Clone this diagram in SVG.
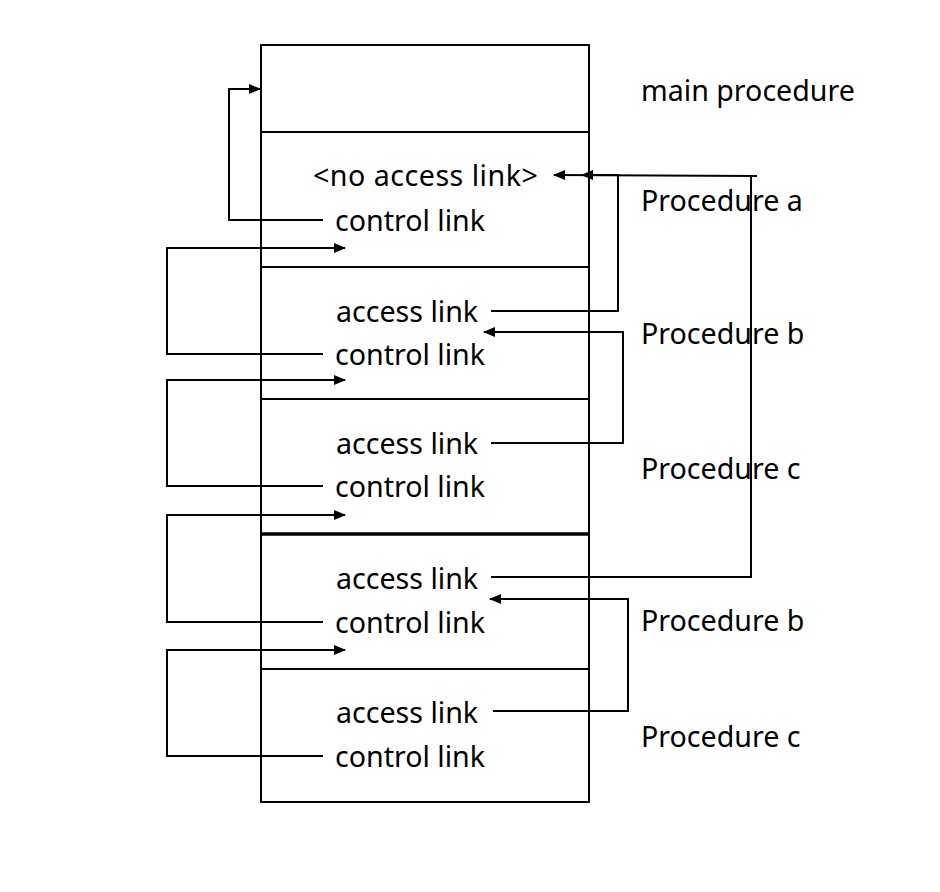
<svg xmlns="http://www.w3.org/2000/svg" width="940" height="892" viewBox="0 0 940 892">
<style>
.t{font-family:"Noto Sans","Liberation Sans",sans-serif;font-size:28.6px;fill:#000}
.ln{fill:none;stroke:#000;stroke-width:2}
.c{fill:none;stroke:#000;stroke-width:2}
</style>
<defs>
<marker id="ah" markerWidth="12" markerHeight="10" refX="11" refY="5" orient="auto" markerUnits="userSpaceOnUse">
<path d="M0,0 L12,5 L0,10 Z" fill="#000"/>
</marker>
</defs>
<rect width="940" height="892" fill="#fff"/>
<g id="stack">
<rect x="261" y="45" width="328" height="757" class="ln"/>
<line x1="261" y1="132" x2="589" y2="132" class="ln"/>
<line x1="261" y1="267" x2="589" y2="267" class="ln"/>
<line x1="261" y1="399" x2="589" y2="399" class="ln"/>
<line x1="261" y1="534" x2="589" y2="534" stroke="#000" stroke-width="3.5"/>
<line x1="261" y1="669" x2="589" y2="669" class="ln"/>
</g>
<g id="main"><text class="t" x="641" y="101">main procedure</text></g>
<g id="proc-a">
<text class="t" x="313" y="186" letter-spacing="0.5">&lt;no access link&gt;</text>
<text class="t" x="335" y="231">control link</text>
<text class="t" x="641" y="211">Procedure a</text>
</g>
<g id="proc-b">
<text class="t" x="336" y="322">access link</text>
<text class="t" x="335" y="365">control link</text>
<text class="t" x="641" y="344">Procedure b</text>
</g>
<g id="proc-c">
<text class="t" x="336" y="454">access link</text>
<text class="t" x="335" y="497">control link</text>
<text class="t" x="641" y="479">Procedure c</text>
</g>
<g id="proc-b2">
<text class="t" x="336" y="589">access link</text>
<text class="t" x="335" y="633">control link</text>
<text class="t" x="641" y="631">Procedure b</text>
</g>
<g id="proc-c2">
<text class="t" x="336" y="723">access link</text>
<text class="t" x="335" y="767">control link</text>
<text class="t" x="641" y="747">Procedure c</text>
</g>
<g id="connectors">
<path class="c" d="M323,220 H229 V89 H260" marker-end="url(#ah)"/>
<path class="c" d="M323,354 H167 V248 H345" marker-end="url(#ah)"/>
<path class="c" d="M323,486 H167 V380 H345" marker-end="url(#ah)"/>
<path class="c" d="M323,622 H167 V515 H345" marker-end="url(#ah)"/>
<path class="c" d="M323,756 H167 V650 H345" marker-end="url(#ah)"/>
<path class="c" d="M491,311 H618 V175 H582" marker-end="url(#ah)"/>
<path class="c" d="M491,577 H751 V176"/>
<path class="c" d="M757,176 L554,175" marker-end="url(#ah)"/>
<path class="c" d="M491,443 H623 V332 H484" marker-end="url(#ah)"/>
<path class="c" d="M493,711 H628 V599 H490" marker-end="url(#ah)"/>
</g>
</svg>
